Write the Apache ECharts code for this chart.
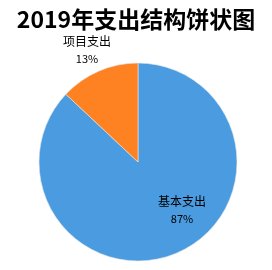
<!DOCTYPE html>
<html><head><meta charset="utf-8">
<script src="https://cdn.jsdelivr.net/npm/echarts@6/dist/echarts.min.js"></script>
<style>html,body{margin:0;padding:0;background:#fff}#c{width:272px;height:270px}</style>
</head><body><div id="c"></div>
<script>
const title = '2019年支出结构饼状图';
const categories = ['基本支出', '项目支出'];
const values = [87, 13];
const colors = ['#4A9BE0', '#FF8222'];
const labelPos = [[182, 210], [87, 50]];

const chart = echarts.init(document.getElementById('c'), null, {renderer: 'canvas'});
chart.setOption({
  backgroundColor: '#fff',
  animation: false,
  title: {
    text: title, left: 'center', top: 3,
    textStyle: {fontFamily: 'Noto Sans CJK SC', fontWeight: 'bold', fontSize: 23, color: '#000'}
  },
  series: [{
    type: 'pie',
    center: [138, 162],
    radius: [0, 99],
    startAngle: 90,
    clockwise: true,
    data: categories.map((n, i) => ({name: n, value: values[i], itemStyle: {color: colors[i]}})),
    itemStyle: {borderColor: '#e8e8e8', borderWidth: 0.6},
    label: {
      show: true, position: 'inside',
      formatter: p => '{a|' + p.name + '}\n{b|' + Math.round(p.percent) + '%}',
      rich: {
        a: {fontFamily: 'Noto Sans CJK SC', fontSize: 12, color: '#000', lineHeight: 17, align: 'center'},
        b: {fontFamily: 'Noto Sans CJK SC', fontSize: 11, color: '#000', lineHeight: 17, align: 'center'}
      }
    },
    labelLine: {show: false},
    labelLayout: p => ({x: labelPos[p.dataIndex][0], y: labelPos[p.dataIndex][1], align: 'center', verticalAlign: 'middle'})
  }]
});
</script></body></html>
